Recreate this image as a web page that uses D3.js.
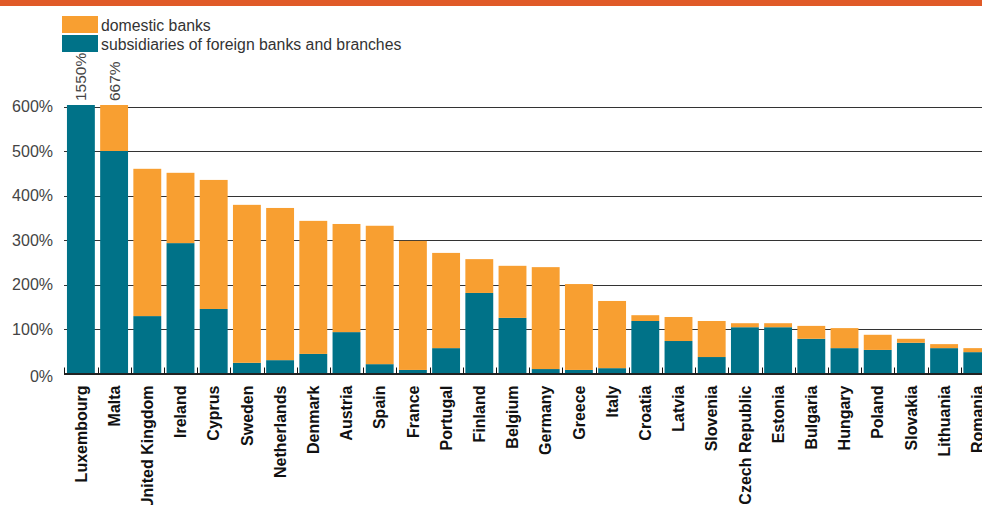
<!DOCTYPE html>
<html>
<head>
<meta charset="utf-8">
<script src="https://cdn.jsdelivr.net/npm/d3@7/dist/d3.min.js"></script>
<style>
  html, body { margin: 0; padding: 0; background: #fff; }
  svg { display: block; font-family: "Liberation Sans", Arial, Helvetica, sans-serif; }
</style>
</head>
<body>
<svg id="chart" width="982" height="505"></svg>
<script>
// Banking assets as % of GDP, by ownership
const countries = ["Luxembourg", "Malta", "United Kingdom", "Ireland", "Cyprus", "Sweden",
  "Netherlands", "Denmark", "Austria", "Spain", "France", "Portugal", "Finland", "Belgium",
  "Germany", "Greece", "Italy", "Croatia", "Latvia", "Slovenia", "Czech Republic", "Estonia",
  "Bulgaria", "Hungary", "Poland", "Slovakia", "Lithuania", "Romania"];
const foreignBanks = [1450, 500, 129, 293, 145, 24, 30, 44, 93, 21, 8, 57, 181, 125,
  10, 8, 12, 118, 73, 37, 104, 104, 78, 57, 53, 69, 57, 48];
const domesticBanks = [100, 167, 331, 158, 290, 355, 342, 299, 243, 311, 290, 214, 76, 117,
  229, 193, 151, 13, 54, 81, 9, 9, 29, 45, 34, 9, 9, 9];
const yTicks = [0, 100, 200, 300, 400, 500, 600];
const seriesNames = ["domestic banks", "subsidiaries of foreign banks and branches"];

const colDomestic = "#F89F31";
const colForeign = "#007288";

const svg = d3.select("#chart");
const W = 982, H = 505;
const plotTop = 105, base = 373.5;

// header strip
svg.append("rect").attr("x", 0).attr("y", 0).attr("width", W).attr("height", 6).attr("fill", "#E05A28");

const data = countries.map((c, i) => ({ country: c, foreign: foreignBanks[i], domestic: domesticBanks[i] }));
const stack = d3.stack().keys(["foreign", "domestic"])(data);

const x = d3.scaleBand().domain(countries).range([64.3, 64.3 + 28 * 33.2])
  .paddingInner(0.16).paddingOuter(0.08);
const y = d3.scaleLinear().domain([0, 600]).range([base, 106.5]);

// gridlines and y labels
const grid = svg.append("g");
yTicks.filter(t => t > 0).forEach(t => {
  grid.append("line").attr("x1", 64).attr("x2", W)
    .attr("y1", Math.round(y(t)) + 0.5).attr("y2", Math.round(y(t)) + 0.5)
    .attr("stroke", "#333").attr("stroke-width", 1.2);
});
svg.append("g").selectAll("text").data(yTicks).join("text")
  .attr("x", 53).attr("y", d => y(d) + (d === 0 ? 3 : 0)).attr("dy", "0.36em")
  .attr("text-anchor", "end").attr("font-size", 16).attr("fill", "#444")
  .text(d => d + "%");

// bars, clipped at the top of the plotting area
svg.append("clipPath").attr("id", "plotClip")
  .append("rect").attr("x", 0).attr("y", plotTop).attr("width", W).attr("height", base - plotTop);
const barsG = svg.append("g").attr("clip-path", "url(#plotClip)");
const colors = { foreign: colForeign, domestic: colDomestic };
stack.forEach(layer => {
  barsG.append("g").attr("fill", colors[layer.key]).selectAll("rect").data(layer).join("rect")
    .attr("x", d => x(d.data.country)).attr("width", x.bandwidth())
    .attr("y", d => y(d[1])).attr("height", d => y(d[0]) - y(d[1]));
});

// value labels for bars beyond the axis
const over = data.filter(d => d.foreign + d.domestic > 600);
svg.append("g").selectAll("text").data(over).join("text")
  .attr("transform", d => `translate(${x(d.country) + x.bandwidth() / 2},${plotTop - 4}) rotate(-90)`)
  .attr("dy", "0.36em").attr("font-size", 15.5).attr("fill", "#444")
  .text(d => (d.foreign + d.domestic) + "%");

// baseline and ticks between bars
svg.append("line").attr("x1", 64).attr("x2", W).attr("y1", base + 0.5).attr("y2", base + 0.5)
  .attr("stroke", "#222").attr("stroke-width", 2);
const tickXs = countries.map(c => x(c) - x.step() * x.paddingInner() / 2);
svg.append("g").selectAll("line").data(tickXs).join("line")
  .attr("x1", d => Math.round(d) + 0.5).attr("x2", d => Math.round(d) + 0.5)
  .attr("y1", base - 6).attr("y2", base).attr("stroke", "#111").attr("stroke-width", 1);

// category labels
svg.append("g").selectAll("text").data(countries).join("text")
  .attr("transform", c => `translate(${x(c) + x.bandwidth() / 2},${base + 12}) rotate(-90)`)
  .attr("text-anchor", "end").attr("dy", "0.36em")
  .attr("font-size", 16).attr("font-weight", "bold").attr("fill", "#111")
  .text(c => c);

// legend
const legend = svg.append("g");
[colDomestic, colForeign].forEach((c, i) => {
  legend.append("rect").attr("x", 62).attr("y", 16 + i * 19).attr("width", 36).attr("height", 17).attr("fill", c);
  legend.append("text").attr("x", 101).attr("y", 25 + i * 19).attr("dy", "0.36em")
    .attr("font-size", 15.8).attr("fill", "#333").text(seriesNames[i]);
});
</script>
</body>
</html>
